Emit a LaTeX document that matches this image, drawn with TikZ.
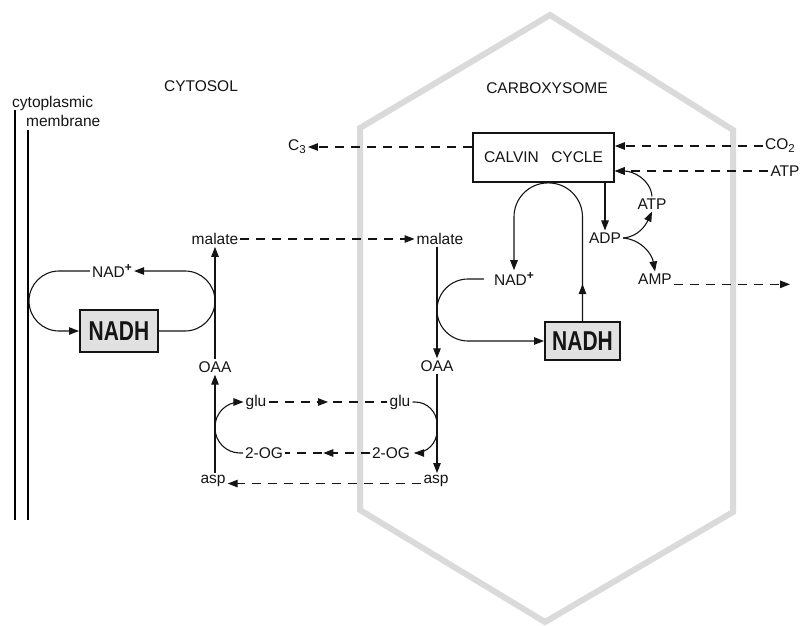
\documentclass[tikz,border=0pt]{standalone}
\usepackage{fontspec}
\setmainfont{Liberation Sans}
\usetikzlibrary{positioning, calc, arrows.meta, decorations.markings}
\definecolor{shell}{RGB}{218, 218, 218}
\definecolor{boxfill}{RGB}{225, 225, 225}
\definecolor{ink}{RGB}{20, 20, 20}
\newcommand{\supplus}{\raisebox{0.75ex}{\fontsize{12}{12}\selectfont\bfseries +}}
\newcommand{\subnum}[1]{\raisebox{-0.35ex}{\fontsize{11.5}{12}\selectfont #1}}

\begin{document}
\begin{tikzpicture}[x=1pt, y=-1pt,
    every node/.style={font=\fontsize{15.5}{18}\selectfont, text=ink, inner sep=2pt},
    flow/.style={draw=ink, line width=1.1pt, -{Triangle[length=10pt, width=7.5pt]}},
    dline/.style={draw=ink, line width=1.1pt, dash pattern=on 9pt off 7pt},
    dflow/.style={flow, dash pattern=on 9pt off 7pt},
    nadh/.style={draw=ink, fill=boxfill, line width=2pt, minimum width=78pt, minimum height=42pt, inner sep=0pt, font=\fontsize{21}{21}\selectfont\bfseries},
    midarrow/.style={postaction=decorate, decoration={markings, mark=at position #1 with {\arrow{Triangle[length=10pt, width=7.5pt]}}}}]
    \useasboundingbox (0,0) rectangle (800,626);

    % carboxysome shell and membrane
    \draw[draw=shell, line width=6pt] (550,15) -- (733,130) -- (733,512) -- (545,622) -- (360,510) -- (360,128) -- cycle;
    \draw[line width=1.1pt] (15,110) -- (15,520);
    \draw[line width=1.1pt] (28,130) -- (28,520);

    % headings
    \node (cytosol) at (201,86) {CYTOSOL};
    \node (carboxysome) at (547,88) {CARBOXYSOME};
    \node[anchor=west] (cytoplasmic) at (10,103) {cytoplasmic};
    \node[anchor=west] (membrane) at (24,121) {membrane};

    % Calvin cycle and its inputs / outputs
    \node[draw=ink, line width=1.8pt, minimum width=141pt, minimum height=49pt] (calvin) at (543.5,157.5) {CALVIN\hspace{0.8em}CYCLE};
    \node (c3) at (297,147) {C\subnum{3}};
    \node (co2) at (780,146) {CO\subnum{2}};
    \node (atpin) at (785,171) {ATP};
    \node (atp) at (652,204) {ATP};
    \node (adp) at (605,238) {ADP};
    \node (amp) at (655,279) {AMP};
    \coordinate (ampout) at (790,285);

    \draw[dflow] (calvin.west |- c3) -- (c3.east);
    \draw[dflow] (co2.west) -- (calvin.east |- co2);
    \draw[dflow] (atpin.west) -- (calvin.east |- atpin);
    \draw[flow] (calvin.south -| adp) -- (adp.north);
    \draw[flow] (adp.east) to[out=5, in=-115] (atp.south);
    \draw[flow] (atp.north) to[out=95, in=0] (calvin.east |- atpin);
    \draw[flow] (adp.east) to[out=-5, in=100] (amp.north);
    \draw[dflow] (amp.base east) -- (amp.base east -| ampout);

    % cytosol side
    \node (mal1) at (215,239) {malate};
    \node (oaa1) at (215,367) {OAA};
    \node (asp1) at (213,481) {asp};
    \node (glu1) at (256,402) {glu};
    \node (og1) at (264,453) {2-OG};
    \node (nad1) at (112,271) {NAD\supplus};
    \node[nadh] (nadh1) at (119,331) {\scalebox{1}[1.3]{NADH}};

    \draw[flow] (asp1.north -| oaa1) -- (oaa1.south);
    \draw[flow] (oaa1.north) -- (mal1.south);
    \draw[flow, rounded corners=30pt] (nadh1.east) -- (oaa1.north |- nadh1) -- (oaa1.north |- nad1) -- (nad1.east);
    \draw[flow, rounded corners=30pt] (nad1.west) -- (29,271) -- (29,331) -- (nadh1.west);
    \draw[flow, rounded corners=25pt] (og1.west) -- (og1.west -| oaa1) -- (glu1.west -| oaa1) -- (glu1.west);

    % carboxysome side
    \node (mal2) at (440,239) {malate};
    \node (oaa2) at (437,366) {OAA};
    \node (asp2) at (436,481) {asp};
    \node (glu2) at (400,402) {glu};
    \node (og2) at (391,453) {2-OG};
    \node (nad2) at (514,279) {NAD\supplus};
    \node[nadh, minimum width=75pt, minimum height=38pt] (nadh2) at (582.5,341) {\scalebox{1}[1.3]{NADH}};

    \draw[flow] (mal2.south -| oaa2) -- (oaa2.north);
    \draw[flow] (oaa2.south) -- (asp2.north -| oaa2);
    \draw[flow, rounded corners=22pt, shorten >=2pt] (glu2.east) -- (glu2.east -| oaa2) -- (og2.east -| oaa2) -- (og2.east);
    \draw[flow, rounded corners=31pt, shorten <=8pt] (nad2.west) -- (nad2.west -| oaa2) -- (nadh2.west -| oaa2) -- (nadh2.west);
    \draw[flow, rounded corners=34pt, midarrow=37pt] (nadh2.north) -- (nadh2.north |- calvin.south) -- (nad2.north |- calvin.south) -- (nad2.north);

    % shuttles across the shell
    \draw[dflow] (mal1.east) -- (mal2.west);
    \draw[dline, midarrow=0.5] (glu1.east) -- (glu2.west);
    \draw[dline, midarrow=0.55] (og2.west) -- (og1.east);
    \draw[dflow] (asp2.base west) -- (asp1.base east);
\end{tikzpicture}
\end{document}
